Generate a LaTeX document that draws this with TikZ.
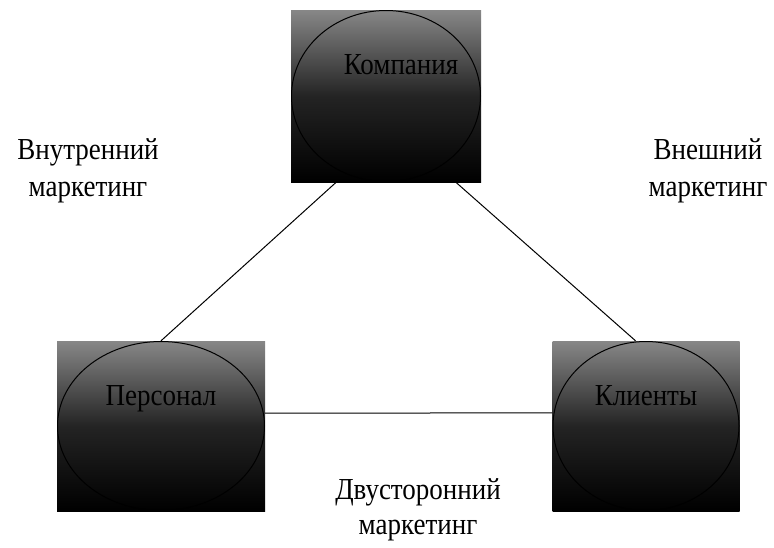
\documentclass[tikz,border=0pt]{standalone}
\usepackage{fontspec}
\setmainfont{Liberation Serif}
\usetikzlibrary{shapes.geometric}

\newcommand{\tallrow}[1]{\scalebox{1}[1.13]{#1}}

\tikzset{
	shadebox/.style={rectangle, inner sep=0pt, top color=black!47, bottom color=black, middle color=black!86},
	oval/.style={ellipse, draw=black, line width=1pt, inner sep=0pt},
	tag/.style={font=\fontsize{27}{37}\selectfont, align=center},
	intag/.style={font=\fontsize{27}{37}\selectfont, text=black, anchor=base}
}

\begin{document}
\begin{tikzpicture}[x=1pt, y=-1pt]
	\useasboundingbox (0,0) rectangle (774,547);
	% boxes with ellipses
	\node[shadebox, minimum width=190pt, minimum height=172pt] (kompbox) at (386,96) {};
	\node[oval, minimum width=189pt, minimum height=171pt] (komp) at (386,96) {};
	\node[shadebox, minimum width=208pt, minimum height=170pt] (persbox) at (161,426) {};
	\node[oval, minimum width=207pt, minimum height=169pt] (pers) at (161,426) {};
	\node[shadebox, minimum width=187pt, minimum height=170pt] (klbox) at (646,426) {};
	\node[oval, minimum width=186pt, minimum height=169pt] (kl) at (646,426) {};
	\node[intag] (kompt) at ([xshift=15pt, yshift=22pt]komp.center) {\tallrow{Компания}};
	\node[intag] (perst) at ([yshift=21pt]pers.center) {\tallrow{Персонал}};
	\node[intag] (klt) at ([yshift=21pt]kl.center) {\tallrow{Клиенты}};
	% connectors
	\draw[line width=1pt] (kompbox.-120) -- (persbox.north);
	\draw[line width=1pt] (kompbox.-51) -- (klbox.97);
	\draw[line width=1pt] (persbox.7) -- (klbox.172);
	% labels
	\node[tag] (inner) at (88,171) {\tallrow{Внутренний}\\\tallrow{маркетинг}};
	\node[tag] (outer) at (708,171) {\tallrow{Внешний}\\\tallrow{маркетинг}};
	\node[tag, font=\fontsize{27}{35}\selectfont] (both) at (418,510) {\tallrow{Двусторонний}\\\tallrow{маркетинг}};
\end{tikzpicture}
\end{document}
